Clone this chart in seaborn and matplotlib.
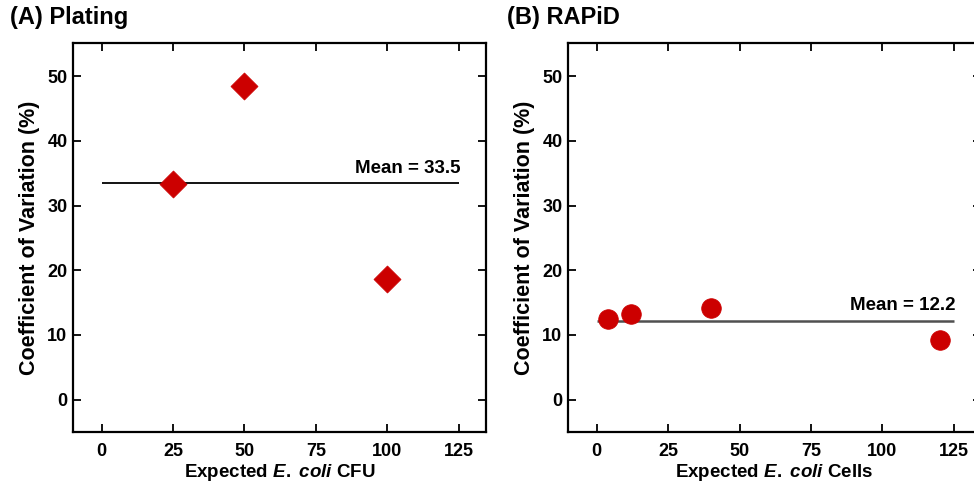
import numpy as np
import pandas as pd
import matplotlib
matplotlib.use("Agg")
import matplotlib.pyplot as plt
import seaborn as sns

# Data
plating_cfu = [25, 50, 100]
plating_cv = [33.4, 48.5, 18.7]
plating_mean = 33.5

rapid_cells = [4, 12, 40, 120]
rapid_cv = [12.5, 13.2, 14.1, 9.15]
rapid_mean = 12.2

xticks = [0, 25, 50, 75, 100, 125]
yticks = [0, 10, 20, 30, 40, 50]

sns.set_style("ticks")
plt.rcParams['font.family'] = ['Liberation Sans', 'DejaVu Sans']
plt.rcParams['font.weight'] = 'bold'
plt.rcParams['text.color'] = 'black'
plt.rcParams['axes.labelcolor'] = 'black'
plt.rcParams['xtick.color'] = 'black'
plt.rcParams['ytick.color'] = 'black'
plt.rcParams['mathtext.fontset'] = 'custom'
plt.rcParams['mathtext.rm'] = 'Liberation Sans:bold'
plt.rcParams['mathtext.it'] = 'Liberation Sans:italic:bold'

red = "#cc0000"

fig = plt.figure(figsize=(9.74, 4.86), dpi=100)
ax1 = fig.add_axes([0.0749, 0.111, 0.424, 0.8004])
ax2 = fig.add_axes([0.5832, 0.111, 0.424, 0.8004])

df_a = pd.DataFrame({"x": plating_cfu, "cv": plating_cv})
df_b = pd.DataFrame({"x": rapid_cells, "cv": rapid_cv})

sns.scatterplot(data=df_a, x="x", y="cv", marker="D", s=190, color=red,
                edgecolor=red, linewidth=0.5, ax=ax1, zorder=3)
sns.scatterplot(data=df_b, x="x", y="cv", marker="o", s=200, color=red,
                edgecolor=red, linewidth=0.5, ax=ax2, zorder=3)

ax1.hlines(plating_mean, xticks[0], xticks[-1], color="black", lw=1.3, zorder=2)
ax2.hlines(rapid_mean, xticks[0], xticks[-1], color="#505050", lw=1.8, zorder=2)
ax1.text(xticks[-1] + 0.5, plating_mean + 1.6, f"Mean = {plating_mean}",
         ha="right", va="baseline", fontsize=13.5, fontweight="bold")
ax2.text(xticks[-1] + 0.5, rapid_mean + 1.6, f"Mean = {rapid_mean}",
         ha="right", va="baseline", fontsize=13.5, fontweight="bold")

xlabels = [r"Expected $\mathit{E.}$ $\mathit{coli}$ CFU",
           r"Expected $\mathit{E.}$ $\mathit{coli}$ Cells"]
titles = ["(A) Plating", "(B) RAPiD"]
for ax, xl in zip([ax1, ax2], xlabels):
    ax.set_xlim(-10, 134.5)
    ax.set_ylim(-5, 55.1)
    ax.set_xticks(xticks)
    ax.set_yticks(yticks)
    ax.tick_params(direction="in", top=True, right=True, length=6, width=1.3,
                   labelsize=13)
    ax.tick_params(axis="x", pad=8)
    ax.tick_params(axis="y", pad=4)
    for lab in ax.get_xticklabels() + ax.get_yticklabels():
        lab.set_fontweight("bold")
    for sp in ax.spines.values():
        sp.set_linewidth(1.6)
        sp.set_color("black")
    ax.set_xlabel(xl, fontsize=13.5, fontweight="bold", labelpad=1)
    ax.set_ylabel("Coefficient of Variation (%)", fontsize=15.5, fontweight="bold", labelpad=5)

fig.text(0.010, 0.963, titles[0], fontsize=17, fontweight="bold", va="center")
fig.text(0.521, 0.963, titles[1], fontsize=17, fontweight="bold", va="center")

fig.savefig("out.png", dpi=100)
